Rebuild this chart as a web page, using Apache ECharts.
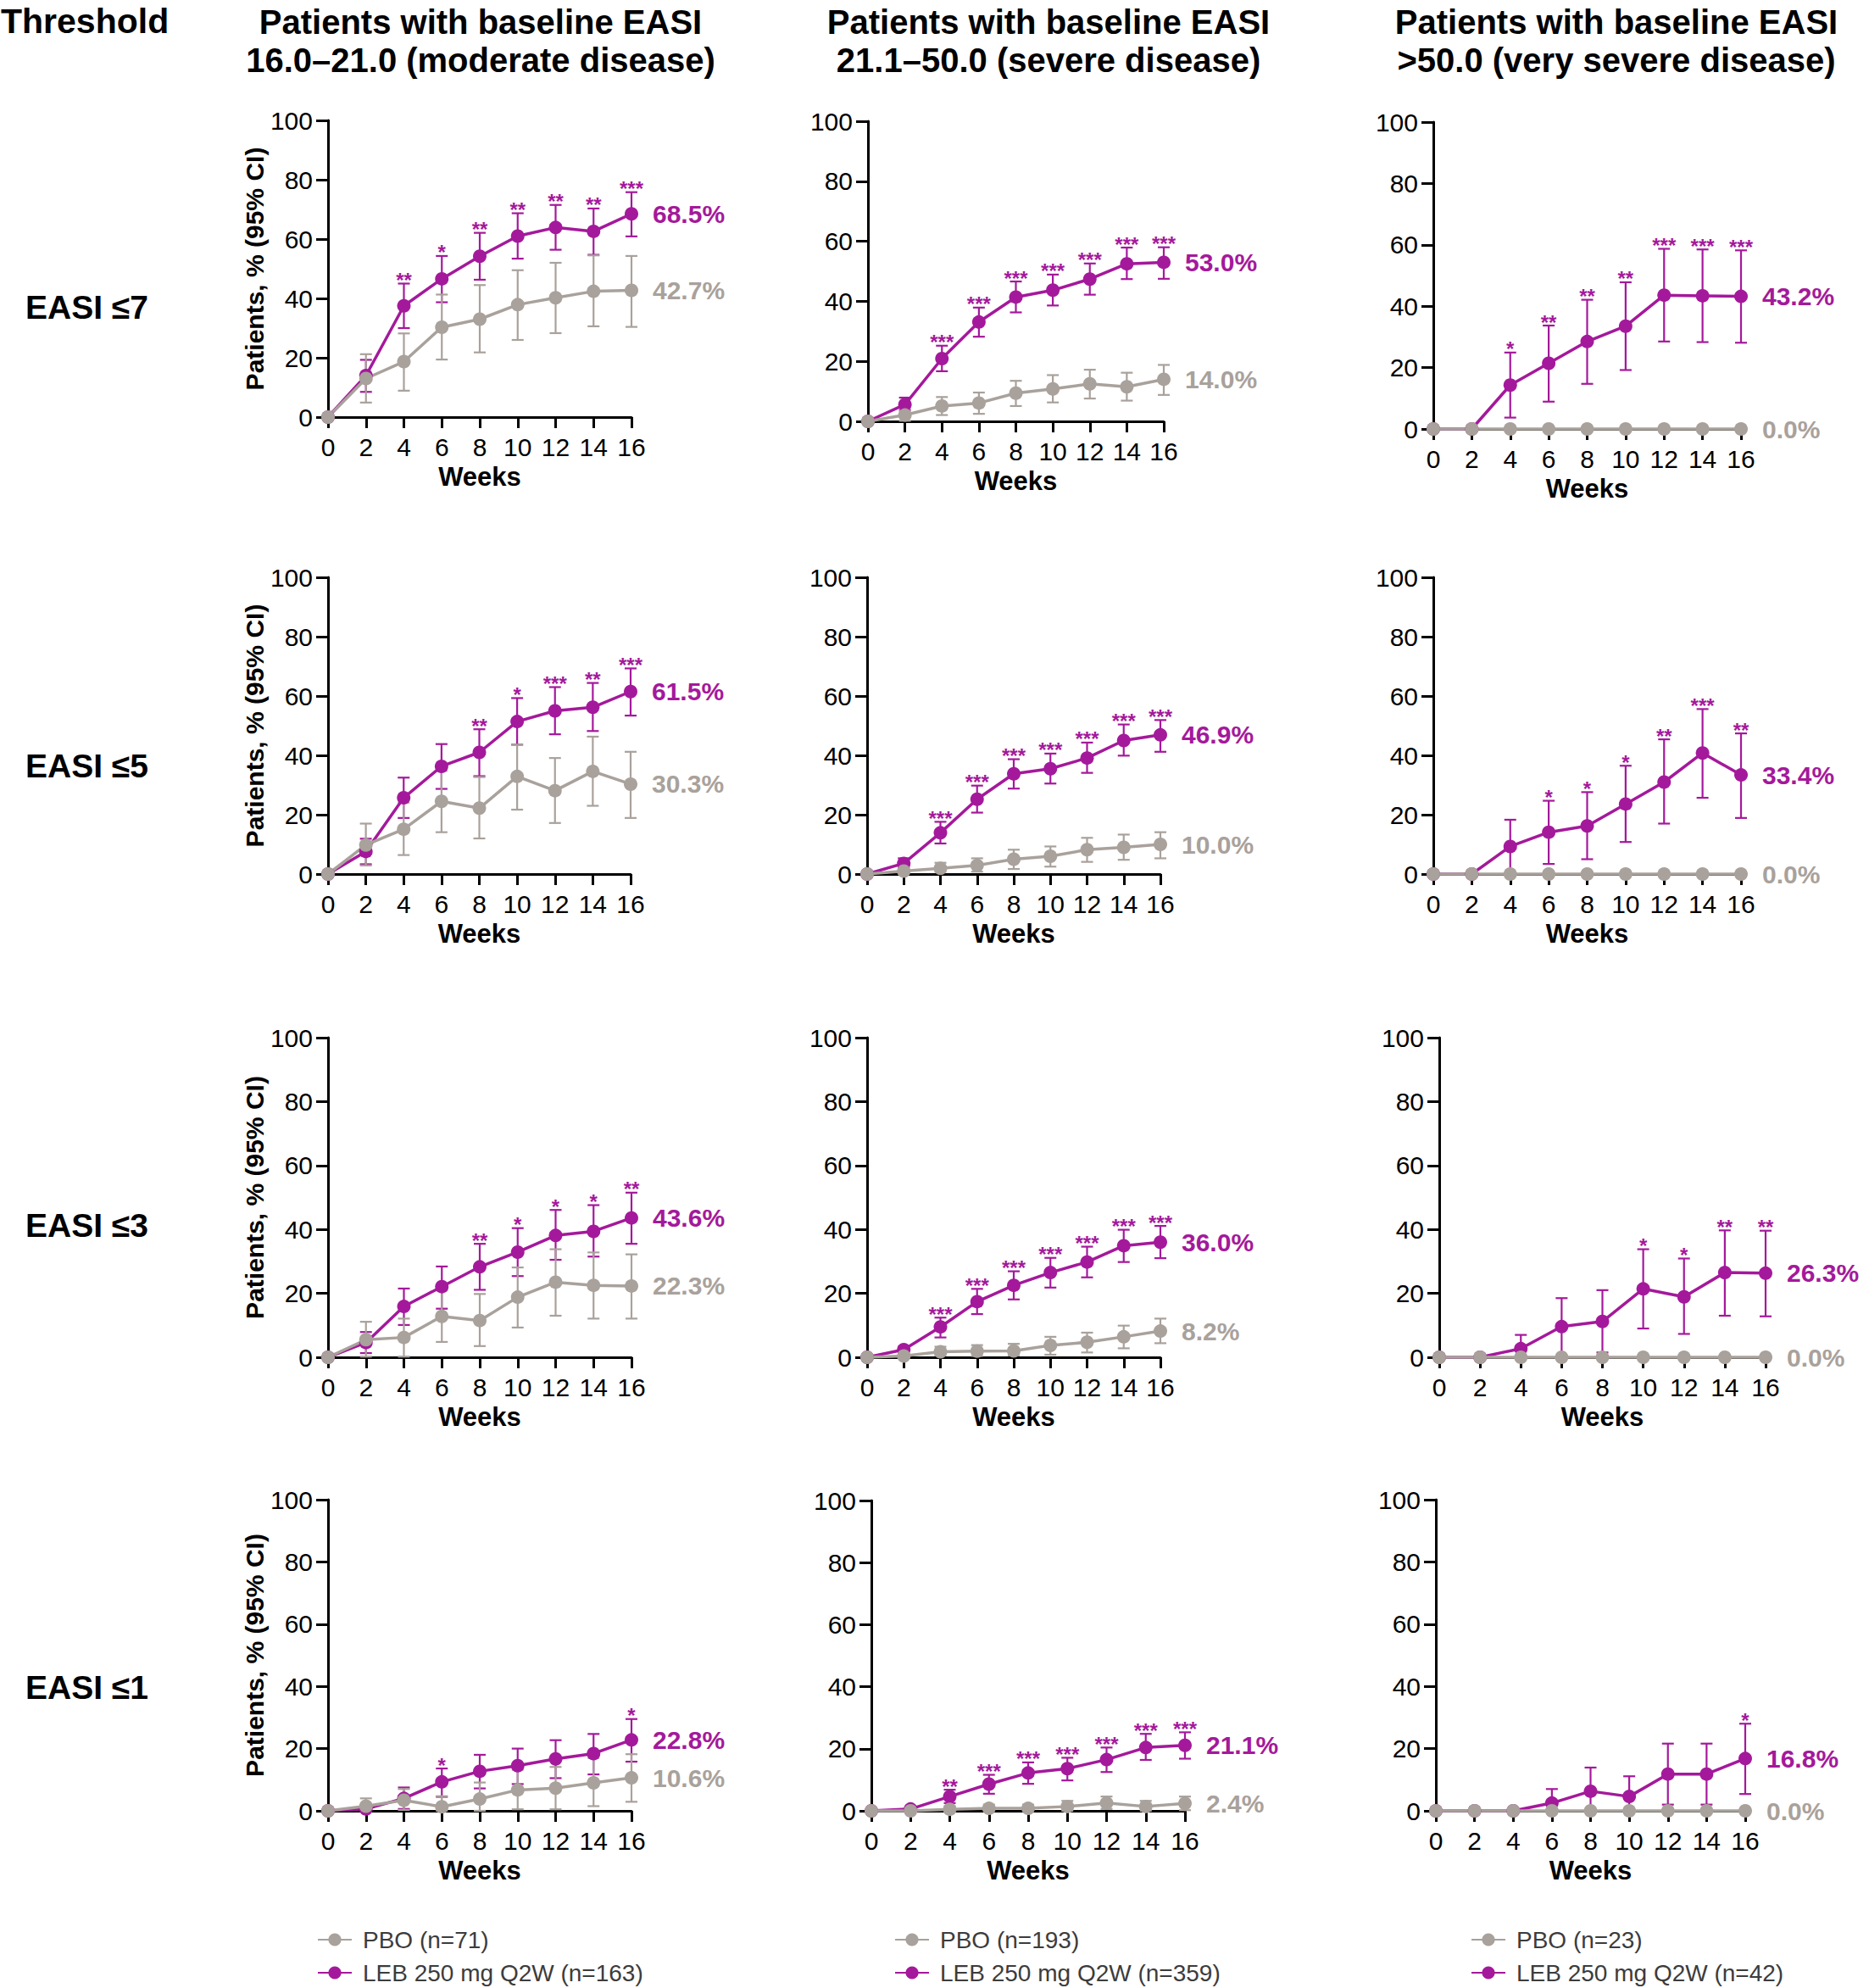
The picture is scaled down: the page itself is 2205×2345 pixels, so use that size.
<!DOCTYPE html>
<html><head><meta charset="utf-8">
<script src="https://cdn.jsdelivr.net/npm/echarts@6/dist/echarts.min.js"></script>
<style>html,body{margin:0;padding:0;background:#fff}#c{width:2205px;height:2345px}</style>
</head><body><div id="c"></div>
<script>
// ---------- DATA ----------
const WEEKS = [0, 2, 4, 6, 8, 10, 12, 14, 16];
const ROW_LABELS = ['EASI \u22647', 'EASI \u22645', 'EASI \u22643', 'EASI \u22641'];
const COL_TITLES = [
  'Patients with baseline EASI\n16.0\u201321.0 (moderate disease)',
  'Patients with baseline EASI\n21.1\u201350.0 (severe disease)',
  'Patients with baseline EASI\n>50.0 (very severe disease)'
];
const PBO_NAMES = ['PBO (n=71)', 'PBO (n=193)', 'PBO (n=23)'];
const LEB_NAMES = ['LEB 250 mg Q2W (n=163)', 'LEB 250 mg Q2W (n=359)', 'LEB 250 mg Q2W (n=42)'];
const Y_TITLE = 'Patients, % (95% CI)';
const X_TITLE = 'Weeks';

// EASI <=7
const LEB_7_MOD    = [0, 14.0, 37.5, 46.6, 54.2, 61.0, 63.9, 62.6, 68.5];
const LEB_7_MOD_LO = [null, 8.5, 30.0, 38.7, 46.3, 53.4, 56.4, 54.7, 60.9];
const LEB_7_MOD_HI = [null, 19.3, 45.0, 54.3, 62.1, 68.7, 71.5, 70.3, 75.8];
const PBO_7_MOD    = [0, 13.0, 18.7, 30.3, 33.0, 37.9, 40.2, 42.4, 42.7];
const PBO_7_MOD_LO = [null, 4.9, 8.9, 19.4, 21.8, 26.0, 28.3, 30.6, 30.4];
const PBO_7_MOD_HI = [null, 21.2, 28.2, 41.3, 44.5, 49.5, 52.0, 54.5, 54.3];
const SIG_7_MOD    = ['', '', '**', '*', '**', '**', '**', '**', '***'];

const LEB_7_SEV    = [0, 5.6, 20.9, 33.1, 41.4, 43.7, 47.4, 52.5, 53.0];
const LEB_7_SEV_LO = [null, 3.8, 16.7, 28.2, 36.3, 38.6, 42.2, 47.4, 47.5];
const LEB_7_SEV_HI = [null, 7.9, 25.2, 37.9, 46.6, 48.9, 52.6, 57.9, 58.0];
const PBO_7_SEV    = [0, 2.1, 5.1, 6.1, 9.4, 10.8, 12.5, 11.5, 14.0];
const PBO_7_SEV_LO = [null, 0.2, 2.1, 2.5, 5.1, 6.3, 7.6, 6.9, 8.8];
const PBO_7_SEV_HI = [null, 3.5, 8.1, 9.6, 13.5, 15.4, 17.2, 16.2, 18.8];
const SIG_7_SEV    = ['', '', '***', '***', '***', '***', '***', '***', '***'];

const LEB_7_VS    = [0, 0, 14.3, 21.4, 28.5, 33.5, 43.6, 43.4, 43.2];
const LEB_7_VS_LO = [null, null, 3.7, 8.9, 14.7, 19.2, 28.5, 28.3, 28.1];
const LEB_7_VS_HI = [null, null, 24.9, 33.7, 42.1, 47.8, 58.7, 58.5, 58.2];
const PBO_7_VS    = [0, 0, 0, 0, 0, 0, 0, 0, 0];
const PBO_7_VS_LO = [null, null, null, null, null, null, null, null, null];
const PBO_7_VS_HI = [null, null, null, null, null, null, null, null, null];
const SIG_7_VS    = ['', '', '*', '**', '**', '**', '***', '***', '***'];

// EASI <=5
const LEB_5_MOD    = [0, 7.6, 25.7, 36.3, 41.0, 51.4, 55.0, 56.2, 61.5];
const LEB_5_MOD_LO = [null, 3.3, 18.9, 28.7, 33.0, 43.6, 47.1, 48.2, 53.4];
const LEB_5_MOD_HI = [null, 11.9, 32.5, 43.8, 48.8, 59.3, 63.0, 64.4, 69.3];
const PBO_5_MOD    = [0, 9.8, 15.1, 24.5, 22.2, 32.9, 28.1, 34.6, 30.3];
const PBO_5_MOD_LO = [null, 2.9, 6.4, 14.1, 12.0, 21.7, 17.2, 23.0, 18.9];
const PBO_5_MOD_HI = [null, 17.0, 24.1, 34.8, 32.7, 43.6, 39.1, 46.3, 41.2];
const SIG_5_MOD    = ['', '', '', '', '**', '*', '***', '**', '***'];

const LEB_5_SEV    = [0, 3.6, 13.9, 25.2, 33.8, 35.5, 39.1, 45.0, 46.9];
const LEB_5_SEV_LO = [null, 2.2, 10.3, 20.7, 28.8, 30.5, 34.1, 39.9, 41.2];
const LEB_5_SEV_HI = [null, 5.3, 17.6, 29.8, 38.7, 40.6, 44.3, 50.4, 51.9];
const PBO_5_SEV    = [0, 1.0, 1.9, 2.9, 5.0, 6.0, 8.2, 9.0, 10.0];
const PBO_5_SEV_LO = [null, 0.1, 0.8, 0.8, 1.7, 2.5, 4.1, 4.8, 5.3];
const PBO_5_SEV_HI = [null, 1.6, 3.8, 5.3, 8.2, 9.3, 12.2, 13.3, 14.1];
const SIG_5_SEV    = ['', '', '***', '***', '***', '***', '***', '***', '***'];

const LEB_5_VS    = [0, 0, 9.3, 14.1, 16.2, 23.6, 31.0, 40.8, 33.4];
const LEB_5_VS_LO = [null, null, 0.2, 3.4, 5.0, 10.8, 17.0, 25.7, 18.9];
const LEB_5_VS_HI = [null, null, 18.3, 24.7, 27.6, 36.5, 45.4, 55.6, 47.4];
const PBO_5_VS    = [0, 0, 0, 0, 0, 0, 0, 0, 0];
const PBO_5_VS_LO = [null, null, null, null, null, null, null, null, null];
const PBO_5_VS_HI = [null, null, null, null, null, null, null, null, null];
const SIG_5_VS    = ['', '', '', '*', '*', '*', '**', '***', '**'];

// EASI <=3
const LEB_3_MOD    = [0, 4.6, 15.9, 22.1, 28.3, 32.9, 38.1, 39.4, 43.6];
const LEB_3_MOD_LO = [null, 1.3, 10.1, 15.2, 21.1, 25.4, 30.5, 31.5, 35.5];
const LEB_3_MOD_HI = [null, 7.9, 21.5, 28.4, 35.5, 40.4, 46.1, 47.6, 51.5];
const PBO_3_MOD    = [0, 5.5, 6.2, 12.8, 11.5, 18.8, 23.5, 22.5, 22.3];
const PBO_3_MOD_LO = [null, 0.2, 0.2, 4.8, 3.5, 9.3, 13.0, 12.1, 12.1];
const PBO_3_MOD_HI = [null, 11.1, 12.1, 21.0, 19.8, 28.1, 33.8, 32.8, 32.2];
const SIG_3_MOD    = ['', '', '', '', '**', '*', '*', '*', '**'];

const LEB_3_SEV    = [0, 2.4, 9.5, 17.4, 22.5, 26.5, 29.8, 34.9, 36.0];
const LEB_3_SEV_LO = [null, 1.0, 6.2, 13.5, 18.1, 21.8, 25.0, 29.8, 31.0];
const LEB_3_SEV_HI = [null, 3.3, 12.4, 21.4, 26.9, 31.1, 34.6, 39.9, 41.1];
const PBO_3_SEV    = [0, 0.4, 1.7, 1.9, 2.0, 3.7, 4.7, 6.4, 8.2];
const PBO_3_SEV_LO = [null, 0.0, 0.6, 0.4, 0.6, 0.8, 1.5, 2.8, 4.4];
const PBO_3_SEV_HI = [null, 1.0, 3.3, 3.8, 4.2, 6.4, 7.7, 9.9, 12.1];
const SIG_3_SEV    = ['', '', '***', '***', '***', '***', '***', '***', '***'];

const LEB_3_VS    = [0, 0, 2.7, 9.6, 11.2, 21.4, 18.9, 26.5, 26.3];
const LEB_3_VS_LO = [null, null, 0.0, 0.5, 1.5, 9.0, 7.3, 13.0, 12.8];
const LEB_3_VS_HI = [null, null, 7.0, 18.5, 21.0, 33.8, 30.9, 39.7, 39.6];
const PBO_3_VS    = [0, 0, 0, 0, 0, 0, 0, 0, 0];
const PBO_3_VS_LO = [null, null, null, null, null, null, null, null, null];
const PBO_3_VS_HI = [null, null, null, null, null, null, null, null, null];
const SIG_3_VS    = ['', '', '', '', '', '*', '*', '**', '**'];

// EASI <=1
const LEB_1_MOD    = [0, 0.6, 4.0, 9.3, 12.7, 14.5, 16.7, 18.4, 22.8];
const LEB_1_MOD_LO = [null, 0.0, 0.6, 4.5, 7.2, 8.6, 10.5, 11.7, 15.8];
const LEB_1_MOD_HI = [null, 1.8, 7.5, 13.6, 18.0, 20.0, 22.7, 24.7, 29.5];
const PBO_1_MOD    = [0, 1.5, 3.4, 1.3, 3.8, 6.7, 7.3, 9.0, 10.6];
const PBO_1_MOD_LO = [null, 0.0, 0.3, 0.0, 0.0, 0.5, 0.5, 1.5, 2.9];
const PBO_1_MOD_HI = [null, 4.0, 7.0, 4.7, 9.1, 13.2, 14.1, 17.0, 18.2];
const SIG_1_MOD    = ['', '', '', '*', '', '', '', '', '*'];

const LEB_1_SEV    = [0, 0.6, 4.6, 8.6, 12.2, 13.6, 16.5, 20.4, 21.1];
const LEB_1_SEV_LO = [null, null, 2.5, 5.5, 8.7, 9.8, 12.5, 16.4, 16.8];
const LEB_1_SEV_HI = [null, null, 6.8, 11.6, 15.6, 17.1, 20.4, 24.8, 25.3];
const PBO_1_SEV    = [0, 0, 0.5, 0.8, 0.8, 1.4, 2.5, 1.4, 2.4];
const PBO_1_SEV_LO = [null, null, 0.0, 0.0, 0.0, 0.0, 0.6, 0.0, 0.2];
const PBO_1_SEV_HI = [null, null, 1.5, 2.0, 2.0, 3.2, 4.6, 3.2, 4.6];
const SIG_1_SEV    = ['', '', '**', '***', '***', '***', '***', '***', '***'];

const LEB_1_VS    = [0, 0, 0, 2.5, 6.3, 4.6, 11.8, 11.8, 16.8];
const LEB_1_VS_LO = [null, null, null, 0.0, 0.0, 0.0, 2.0, 2.0, 5.4];
const LEB_1_VS_HI = [null, null, null, 7.0, 13.9, 11.1, 21.6, 21.6, 28.0];
const PBO_1_VS    = [0, 0, 0, 0, 0, 0, 0, 0, 0];
const PBO_1_VS_LO = [null, null, null, null, null, null, null, null, null];
const PBO_1_VS_HI = [null, null, null, null, null, null, null, null, null];
const SIG_1_VS    = ['', '', '', '', '', '', '', '', '*'];

// ---------- LAYOUT / STYLE ----------
const FONT = 'Arial, "Liberation Sans", Helvetica, sans-serif';
const PURPLE = '#a4199b';
const GREY = '#a9a19b';

// grid rects [left, top, width, height]
const GRIDS = [
  [387, 142, 358, 350], [1024, 143, 349, 354], [1691, 144, 363, 362],
  [387, 681, 357, 350], [1023, 681, 346, 350], [1691, 681, 363, 350],
  [387, 1224, 358, 377], [1023, 1224, 346, 377], [1698, 1224, 385, 377],
  [387, 1769, 358, 367], [1028, 1770, 370, 366], [1694, 1769, 365, 367]
];

const PANEL_DATA = [
  [LEB_7_MOD, LEB_7_MOD_LO, LEB_7_MOD_HI, PBO_7_MOD, PBO_7_MOD_LO, PBO_7_MOD_HI, SIG_7_MOD],
  [LEB_7_SEV, LEB_7_SEV_LO, LEB_7_SEV_HI, PBO_7_SEV, PBO_7_SEV_LO, PBO_7_SEV_HI, SIG_7_SEV],
  [LEB_7_VS, LEB_7_VS_LO, LEB_7_VS_HI, PBO_7_VS, PBO_7_VS_LO, PBO_7_VS_HI, SIG_7_VS],
  [LEB_5_MOD, LEB_5_MOD_LO, LEB_5_MOD_HI, PBO_5_MOD, PBO_5_MOD_LO, PBO_5_MOD_HI, SIG_5_MOD],
  [LEB_5_SEV, LEB_5_SEV_LO, LEB_5_SEV_HI, PBO_5_SEV, PBO_5_SEV_LO, PBO_5_SEV_HI, SIG_5_SEV],
  [LEB_5_VS, LEB_5_VS_LO, LEB_5_VS_HI, PBO_5_VS, PBO_5_VS_LO, PBO_5_VS_HI, SIG_5_VS],
  [LEB_3_MOD, LEB_3_MOD_LO, LEB_3_MOD_HI, PBO_3_MOD, PBO_3_MOD_LO, PBO_3_MOD_HI, SIG_3_MOD],
  [LEB_3_SEV, LEB_3_SEV_LO, LEB_3_SEV_HI, PBO_3_SEV, PBO_3_SEV_LO, PBO_3_SEV_HI, SIG_3_SEV],
  [LEB_3_VS, LEB_3_VS_LO, LEB_3_VS_HI, PBO_3_VS, PBO_3_VS_LO, PBO_3_VS_HI, SIG_3_VS],
  [LEB_1_MOD, LEB_1_MOD_LO, LEB_1_MOD_HI, PBO_1_MOD, PBO_1_MOD_LO, PBO_1_MOD_HI, SIG_1_MOD],
  [LEB_1_SEV, LEB_1_SEV_LO, LEB_1_SEV_HI, PBO_1_SEV, PBO_1_SEV_LO, PBO_1_SEV_HI, SIG_1_SEV],
  [LEB_1_VS, LEB_1_VS_LO, LEB_1_VS_HI, PBO_1_VS, PBO_1_VS_LO, PBO_1_VS_HI, SIG_1_VS]
];

function errRenderer(color, sig) {
  return function (params, api) {
    const x = api.value(0);
    const idx = api.value(3);
    const pHi = api.coord([x, api.value(2)]);
    const pLo = api.coord([x, api.value(1)]);
    const cw = 7;
    const st = { stroke: color, lineWidth: 2.2 };
    const children = [
      { type: 'line', shape: { x1: pHi[0], y1: pHi[1], x2: pLo[0], y2: pLo[1] }, style: st },
      { type: 'line', shape: { x1: pHi[0] - cw, y1: pHi[1], x2: pHi[0] + cw, y2: pHi[1] }, style: st },
      { type: 'line', shape: { x1: pLo[0] - cw, y1: pLo[1], x2: pLo[0] + cw, y2: pLo[1] }, style: st }
    ];
    if (sig && sig[idx]) {
      children.push({
        type: 'text',
        style: { text: sig[idx], x: pHi[0], y: pHi[1] + 8, align: 'center', verticalAlign: 'bottom',
                 fill: color, font: 'bold 24px ' + FONT }
      });
    }
    return { type: 'group', children };
  };
}

function errData(lo, hi) {
  const out = [];
  WEEKS.forEach((w, i) => { if (lo[i] != null && hi[i] != null) out.push([w, lo[i], hi[i], i]); });
  return out;
}

const grid = [], xAxis = [], yAxis = [], series = [];
GRIDS.forEach((g, p) => {
  const col = p % 3;
  grid.push({ left: g[0], top: g[1], width: g[2], height: g[3], outerBoundsMode: 'none', containLabel: false });
  xAxis.push({
    gridIndex: p, type: 'value', min: 0, max: 16, interval: 2,
    name: X_TITLE, nameLocation: 'middle', nameGap: 55,
    nameTextStyle: { fontSize: 31, fontWeight: 'bold', color: '#000', fontFamily: FONT },
    axisLine: { show: true, onZero: false, lineStyle: { color: '#000', width: 3 } },
    axisTick: { show: true, length: 13, lineStyle: { color: '#000', width: 3 } },
    axisLabel: { fontSize: 30, color: '#000', margin: 20, fontFamily: FONT },
    splitLine: { show: false }
  });
  yAxis.push({
    gridIndex: p, type: 'value', min: 0, max: 100, interval: 20,
    name: col === 0 ? Y_TITLE : '', nameLocation: 'middle', nameGap: 63, nameRotate: 90,
    nameTextStyle: { fontSize: 30, fontWeight: 'bold', color: '#000', fontFamily: FONT },
    axisLine: { show: true, onZero: false, lineStyle: { color: '#000', width: 3 } },
    axisTick: { show: true, length: 14, lineStyle: { color: '#000', width: 3 } },
    axisLabel: { fontSize: 30, color: '#000', margin: 18, fontFamily: FONT },
    splitLine: { show: false }
  });
  const d = PANEL_DATA[p];
  const endLabel = (color) => ({
    show: true, distance: 25, color, fontSize: 30, fontWeight: 'bold', fontFamily: FONT,
    formatter: (pr) => pr.value[1].toFixed(1) + '%'
  });
  series.push({
    type: 'custom', xAxisIndex: p, yAxisIndex: p,
    renderItem: errRenderer(PURPLE, d[6]), data: errData(d[1], d[2]),
    encode: { x: 0, y: [1, 2] }, itemStyle: { color: PURPLE }, silent: true
  });
  series.push({
    type: 'line', name: LEB_NAMES[col], xAxisIndex: p, yAxisIndex: p,
    data: WEEKS.map((w, i) => [w, d[0][i]]),
    symbol: 'circle', symbolSize: 16, clip: false,
    lineStyle: { color: PURPLE, width: 3.5 }, itemStyle: { color: PURPLE },
    endLabel: endLabel(PURPLE)
  });
  series.push({
    type: 'custom', xAxisIndex: p, yAxisIndex: p,
    renderItem: errRenderer(GREY, null), data: errData(d[4], d[5]),
    encode: { x: 0, y: [1, 2] }, itemStyle: { color: GREY }, silent: true
  });
  series.push({
    type: 'line', name: PBO_NAMES[col], xAxisIndex: p, yAxisIndex: p,
    data: WEEKS.map((w, i) => [w, d[3][i]]),
    symbol: 'circle', symbolSize: 16, clip: false,
    lineStyle: { color: GREY, width: 3.5 }, itemStyle: { color: GREY },
    endLabel: endLabel(GREY)
  });
});

const LEGEND_LEFT = [374, 1055, 1735];
const LEGEND_TOP = [2274, 2313];
const legend = [];
LEGEND_LEFT.forEach((l, c) => {
  [PBO_NAMES[c], LEB_NAMES[c]].forEach((nm, k) => {
    legend.push({
      data: [nm], orient: 'horizontal', left: l, top: LEGEND_TOP[k],
      itemWidth: 40, itemHeight: 19, selectedMode: false, padding: 0,
      textStyle: { fontSize: 28, color: '#3c3c3c', fontFamily: FONT, padding: [0, 0, 0, 8] }
    });
  });
});

const graphic = [
  { type: 'text', x: 1, y: 25, style: { text: 'Threshold', font: 'bold 41px ' + FONT, fill: '#000', align: 'left', verticalAlign: 'middle' } }
];
const TITLE_X = [567, 1237, 1907];
COL_TITLES.forEach((t, c) => graphic.push({
  type: 'text', x: TITLE_X[c], y: 48,
  style: { text: t, font: 'bold 40px ' + FONT, fill: '#000', align: 'center', verticalAlign: 'middle', lineHeight: 45 }
}));
const ROW_Y = [362, 903, 1445, 1990];
ROW_LABELS.forEach((t, r) => graphic.push({
  type: 'text', x: 30, y: ROW_Y[r],
  style: { text: t, font: 'bold 39px ' + FONT, fill: '#000', align: 'left', verticalAlign: 'middle' }
}));

const chart = echarts.init(document.getElementById('c'), null, { renderer: 'svg' });
chart.setOption({
  animation: false,
  backgroundColor: '#fff',
  textStyle: { fontFamily: FONT },
  grid, xAxis, yAxis, series, legend, graphic
});
</script>
</body></html>
